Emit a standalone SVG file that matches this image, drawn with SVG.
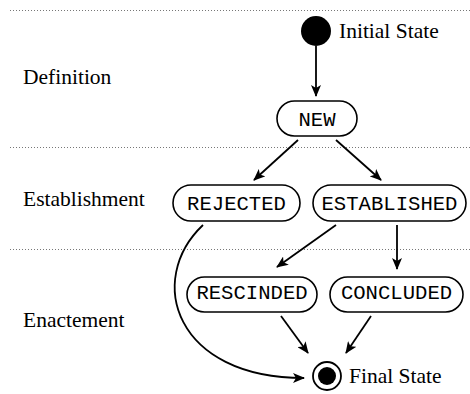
<svg xmlns="http://www.w3.org/2000/svg" width="470" height="394" viewBox="0 0 470 394">
  <style>
    .lane { stroke: #777; stroke-width: 1; stroke-dasharray: 1 2; fill: none; }
    .phase { font-family: "Liberation Serif", "Times New Roman", serif; font-size: 21.5px; fill: #000; }
    .state rect { fill: #fff; stroke: #000; stroke-width: 1.6; }
    .state text { font-family: "Liberation Mono", "Courier New", monospace; font-size: 20.6px; fill: #000; text-anchor: middle; }
    .edge { stroke: #000; stroke-width: 1.8; fill: none; marker-end: url(#arrow); }
  </style>
  <defs>
    <marker id="arrow" viewBox="0 0 12 10" refX="11" refY="5" markerWidth="12" markerHeight="10" markerUnits="userSpaceOnUse" orient="auto">
      <path d="M0,0 L12,5 L0,10 L3,5 Z" fill="#000"/>
    </marker>
  </defs>

  <!-- phase separators -->
  <g id="lanes">
    <line class="lane" x1="10" y1="10.5" x2="470" y2="10.5"/>
    <line class="lane" x1="10" y1="147.5" x2="470" y2="147.5"/>
    <line class="lane" x1="10" y1="249.5" x2="470" y2="249.5"/>
  </g>

  <!-- phase labels -->
  <g id="phases">
    <text class="phase" x="23" y="84">Definition</text>
    <text class="phase" x="23" y="206">Establishment</text>
    <text class="phase" x="23" y="327">Enactement</text>
  </g>

  <!-- transitions -->
  <g id="connectors">
    <line class="edge" x1="316" y1="46" x2="316" y2="96"/>
    <line class="edge" x1="298" y1="140" x2="254" y2="180"/>
    <line class="edge" x1="336" y1="140" x2="381" y2="180"/>
    <line class="edge" x1="336" y1="225" x2="277" y2="267"/>
    <line class="edge" x1="397" y1="225" x2="397" y2="269"/>
    <line class="edge" x1="281" y1="316" x2="308" y2="353"/>
    <line class="edge" x1="371" y1="316" x2="346" y2="353"/>
    <path class="edge" d="M203,225 C145,280 175,378 304,378"/>
  </g>

  <g id="initial">
    <circle cx="316" cy="31" r="15" fill="#000"/>
    <text class="phase" x="339" y="38">Initial State</text>
  </g>

  <g id="new" class="state">
    <rect x="277" y="101" width="80" height="35" rx="17.5"/>
    <text x="317" y="126">NEW</text>
  </g>

  <g id="rejected" class="state">
    <rect x="173" y="185" width="127" height="36" rx="18"/>
    <text x="236.5" y="210">REJECTED</text>
  </g>

  <g id="established" class="state">
    <rect x="313" y="185" width="153" height="36" rx="18"/>
    <text x="389.5" y="210">ESTABLISHED</text>
  </g>

  <g id="rescinded" class="state">
    <rect x="187" y="277" width="130" height="35" rx="17.5"/>
    <text x="252" y="299">RESCINDED</text>
  </g>

  <g id="concluded" class="state">
    <rect x="330" y="277" width="133" height="35" rx="17.5"/>
    <text x="396.5" y="299">CONCLUDED</text>
  </g>

  <g id="final">
    <circle cx="327" cy="376" r="14" fill="#fff" stroke="#000" stroke-width="1.8"/>
    <circle cx="327" cy="376" r="9" fill="#000"/>
    <text class="phase" x="349" y="383">Final State</text>
  </g>
</svg>
